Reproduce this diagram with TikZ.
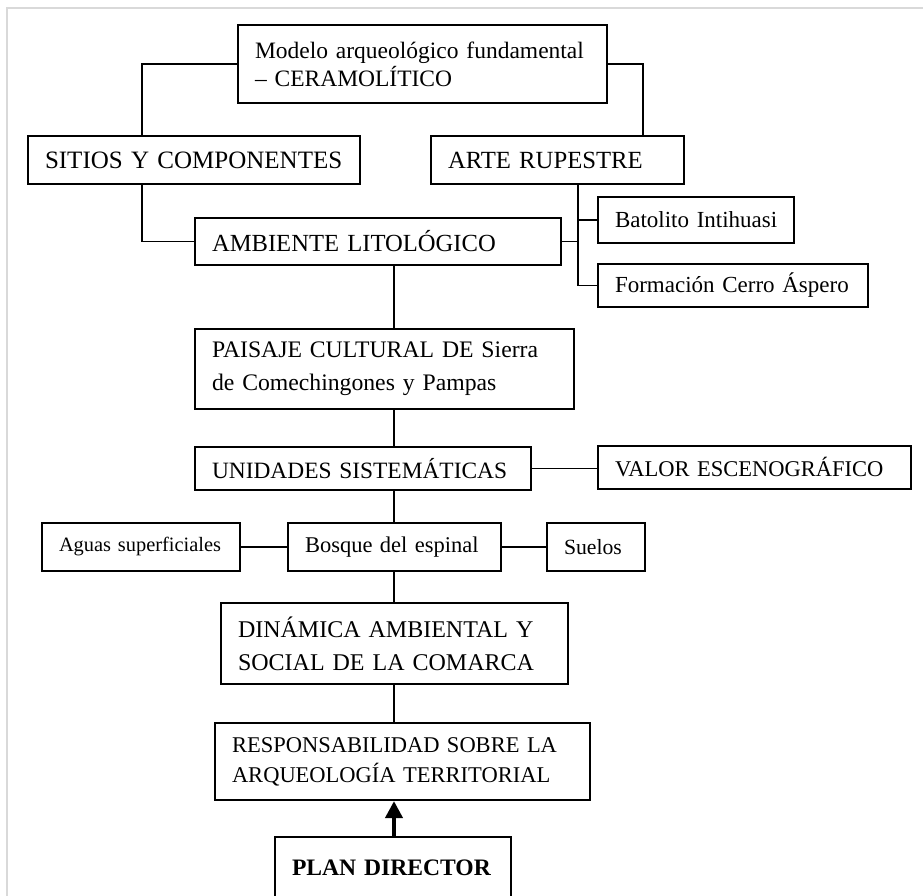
\documentclass[tikz,border=0pt]{standalone}
\usepackage{fontspec}
\setmainfont{Liberation Serif}
\usetikzlibrary{arrows.meta,calc}
\tikzset{
  boxn/.style={draw=black, line width=2.2pt, inner sep=0pt, align=left, text=black},
  conn/.style={draw=black, line width=1.3pt},
  bigarrow/.style={draw=black, line width=4pt, -{Triangle[width=17pt,length=17pt]}},
  frameline/.style={draw=black!15, line width=1.2pt}
}
\newcommand\mybox[8]{% name x1 y1 x2 y2 size leading text
  \pgfmathsetmacro\bxw{#4-#2}%
  \pgfmathsetmacro\bxh{#5-#3}%
  \pgfmathsetmacro\bxt{#4-#2-34}%
  \pgfmathsetmacro\bxcx{(#2+#4)/2}%
  \pgfmathsetmacro\bxcy{(#3+#5)/2}%
  \node[boxn, minimum width=\bxw pt, minimum height=\bxh pt, text width=\bxt pt,
        font=\fontsize{#6}{#7}\selectfont] (#1) at (\bxcx,\bxcy) {#8};%
}
\begin{document}
\begin{tikzpicture}[x=1pt,y=-1pt]
\useasboundingbox (0,0) rectangle (923,896);
\draw[frameline] (7,896) -- (7,8) -- (923,8);
\coordinate (trunk) at (394,0);

\mybox{top}{238}{25}{607}{103}{23.5}{28}{\mbox{Modelo arqueológico fundamental}\\\mbox{– CERAMOLÍTICO}}
\mybox{sitios}{28}{136}{360}{184}{25}{30}{\mbox{SITIOS Y COMPONENTES}}
\mybox{arte}{431}{136}{684}{184}{24.7}{30}{\mbox{ARTE RUPESTRE}}
\mybox{bat}{598}{197}{794}{243}{23}{30}{\mbox{Batolito Intihuasi}}
\mybox{amb}{195}{218}{561}{265}{24.6}{30}{\mbox{AMBIENTE LITOLÓGICO}}
\mybox{form}{598}{264}{868}{307}{23}{30}{\mbox{Formación Cerro Áspero}}
\mybox{pais}{195}{329}{574}{409}{23.7}{33}{\mbox{PAISAJE CULTURAL DE Sierra}\\\mbox{de Comechingones y Pampas}}
\mybox{unid}{195}{447}{531}{490}{23.4}{30}{\mbox{UNIDADES SISTEMÁTICAS}}
\mybox{valor}{598}{446}{911}{489}{22.5}{30}{\mbox{VALOR ESCENOGRÁFICO}}
\mybox{aguas}{42}{523}{240}{571}{20.4}{30}{\mbox{Aguas superficiales}}
\mybox{bosque}{288}{523}{501}{571}{22.5}{30}{\mbox{Bosque del espinal}}
\mybox{suelos}{547}{523}{645}{571}{21.7}{30}{\mbox{Suelos}}
\mybox{din}{221}{603}{568}{684}{24}{33}{\mbox{DINÁMICA AMBIENTAL Y}\\\mbox{SOCIAL DE LA COMARCA}}
\mybox{resp}{215}{723}{590}{800}{22.5}{30}{\mbox{RESPONSABILIDAD SOBRE LA}\\\mbox{ARQUEOLOGÍA TERRITORIAL}}
\mybox{plan}{275}{837}{511}{898}{23.6}{30}{\mbox{\bfseries PLAN DIRECTOR}}

% connectors
\draw[conn] (top.west) -| ([xshift=115pt]sitios.north west);
\draw[conn] (top.east) -| ([xshift=213pt]arte.north west);
\draw[conn] ([xshift=115pt]sitios.south west) |- (amb.west);
\coordinate (spine) at ([xshift=148pt]arte.south west);
\draw[conn] (spine) |- (form.west);
\draw[conn] (bat.west) -- (bat.west -| spine);
\draw[conn] (amb.east) -- (amb.east -| spine);
\draw[conn] (amb.south -| trunk) -- (pais.north -| trunk);
\draw[conn] (pais.south -| trunk) -- (unid.north -| trunk);
\draw[conn] (unid.east) -- (valor.west |- unid.east);
\draw[conn] (unid.south -| trunk) -- (bosque.north -| trunk);
\draw[conn] (aguas.east) -- (bosque.west);
\draw[conn] (bosque.east) -- (suelos.west);
\draw[conn] (bosque.south -| trunk) -- (din.north -| trunk);
\draw[conn] (din.south -| trunk) -- (resp.north -| trunk);
\draw[bigarrow] (plan.north -| trunk) -- (resp.south -| trunk);
\end{tikzpicture}
\end{document}
